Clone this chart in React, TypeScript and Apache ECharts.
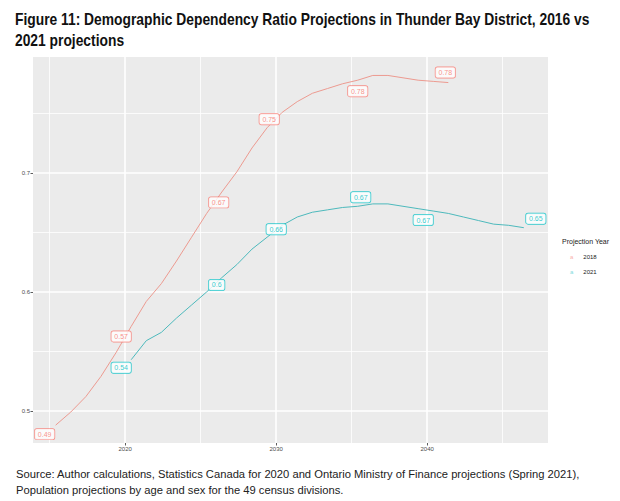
import React, { useEffect, useRef } from "react";
import * as echarts from "echarts";

const titleText =
  "Figure 11: Demographic Dependency Ratio Projections in Thunder Bay District, 2016 vs\n2021 projections";
const sourceText =
  "Source: Author calculations, Statistics Canada for 2020 and Ontario Ministry of Finance projections (Spring 2021),\nPopulation projections by age and sex for the 49 census divisions.";
const legendTitle = "Projection Year";
const seriesNames = ["2018", "2021"];

const xTicks = [2020, 2030, 2040];
const xMinor = [2015, 2025, 2035, 2045];
const yTicks = [0.5, 0.6, 0.7];
const yMinor = [0.55, 0.65, 0.75];

const years2018 = [
  2015.4, 2016.4, 2017.4, 2018.4, 2019.4, 2020.4, 2021.4, 2022.4, 2023.4, 2024.4,
  2025.4, 2026.4, 2027.4, 2028.4, 2029.4, 2030.4, 2031.4, 2032.4, 2033.4, 2034.4,
  2035.4, 2036.4, 2037.4, 2038.4, 2039.4, 2040.4, 2041.4,
];
const values2018 = [
  0.488, 0.499, 0.512, 0.529, 0.549, 0.571, 0.592, 0.607, 0.626, 0.646,
  0.666, 0.684, 0.701, 0.721, 0.738, 0.751, 0.76, 0.767, 0.771, 0.775,
  0.778, 0.782, 0.782, 0.78, 0.778, 0.777, 0.776,
];
const years2021 = [
  2020.4, 2021.4, 2022.4, 2023.4, 2024.4, 2025.4, 2026.4, 2027.4, 2028.4, 2029.4,
  2030.4, 2031.4, 2032.4, 2033.4, 2034.4, 2035.4, 2036.4, 2037.4, 2038.4, 2039.4,
  2040.4, 2041.4, 2042.4, 2043.4, 2044.4, 2045.4, 2046.4,
];
const values2021 = [
  0.543, 0.559, 0.566, 0.578, 0.589, 0.6, 0.612, 0.623, 0.636, 0.646,
  0.656, 0.663, 0.667, 0.669, 0.671, 0.672, 0.674, 0.674, 0.672, 0.67,
  0.668, 0.666, 0.663, 0.66, 0.657, 0.656, 0.654,
];
const labelIndex = [0, 5, 10, 15, 20, 26];

const RED = "#F8766D";
const TEAL = "#00BFC4";
const RED_LINE = "#EC9A90";
const TEAL_LINE = "#4DB9BC";
const redLabelOffsets = [[-11, 9], [-10, 10], [12, -11], [-13, 7], [0, 11], [-3, -10]];
const tealLabelOffsets = [[-10, 8], [10, -7], [-6, 4], [3, -9], [-10, 9], [12, -9]];

const fmt = (v: number) => String(Number(v.toFixed(2)));
const FONT = "'Liberation Sans', Arial, sans-serif";

function labelSeries(name: string, xs: number[], ys: number[], color: string, offsets: number[][]) {
  return {
    name,
    type: "scatter",
    z: 5,
    symbolSize: 1,
    itemStyle: { color: "rgba(0,0,0,0)" },
    legendHoverLink: false,
    data: labelIndex.map((i, k) => ({
      value: [xs[i], ys[i]],
      label: { offset: offsets[k] },
    })),
    label: {
      show: true,
      position: "inside",
      formatter: (p: any) => fmt(p.value[1]),
      color,
      fontSize: 7,
      fontFamily: FONT,
      backgroundColor: "#ffffff",
      borderColor: color,
      borderWidth: 0.7,
      borderRadius: 2,
      padding: [2, 3, 1.5, 3],
    },
  };
}

export default function App() {
  const ref = useRef<HTMLDivElement>(null);
  useEffect(() => {
    if (!ref.current) return;
    const chart = echarts.init(ref.current, undefined, { renderer: "svg" });
    const gridLines = [
      ...xMinor.map((v) => ({ xAxis: v, lineStyle: { width: 0.8 } })),
      ...xTicks.map((v) => ({ xAxis: v, lineStyle: { width: 1.6 } })),
      ...yMinor.map((v) => ({ yAxis: v, lineStyle: { width: 0.8 } })),
      ...yTicks.map((v) => ({ yAxis: v, lineStyle: { width: 1.6 } })),
    ];
    chart.setOption({
      animation: false,
      backgroundColor: "#ffffff",
      title: [
        {
          text: legendTitle,
          left: 557,
          top: 233,
          textStyle: {
            fontFamily: FONT,
            fontWeight: "normal",
            fontSize: 7,
            color: "#222",
          },
        },
      ],
      graphic: [
        {
          type: "text",
          left: 15,
          top: 9,
          scaleX: 0.865,
          style: {
            text: titleText,
            font: `bold 16px ${FONT}`,
            lineHeight: 21,
            fill: "#111",
          },
        },
        {
          type: "text",
          left: 16,
          top: 466,
          scaleX: 0.975,
          style: {
            text: sourceText,
            font: `11.5px ${FONT}`,
            lineHeight: 16,
            fill: "#222",
          },
        },
      ],
      legend: {
        orient: "vertical",
        left: 559,
        top: 246,
        itemWidth: 0,
        itemHeight: 0,
        itemGap: 3,
        data: seriesNames,
        formatter: (name: string) => `{${name === "2018" ? "r" : "t"}|a}   {n|${name}}`,
        textStyle: {
          fontFamily: FONT,
          rich: {
            r: { color: "#F9B2AC", fontSize: 6 },
            t: { color: "#7FDADD", fontSize: 6 },
            n: { color: "#222", fontSize: 6 },
          },
        },
      },
      grid: {
        left: 33,
        right: 72,
        top: 57,
        bottom: 58,
        show: true,
        backgroundColor: "#EBEBEB",
        borderWidth: 0,
      },
      xAxis: {
        type: "value",
        min: 2013.9,
        max: 2048,
        splitLine: { show: false },
        axisLine: { show: false },
        axisTick: { show: true, customValues: xTicks, length: 2.5, lineStyle: { color: "#333", width: 0.8 } },
        axisLabel: {
          customValues: xTicks,
          fontSize: 6,
          color: "#4D4D4D",
          margin: 3,
          fontFamily: FONT,
          formatter: (v: number) => String(v),
        },
      },
      yAxis: {
        type: "value",
        min: 0.473,
        max: 0.7975,
        splitLine: { show: false },
        axisLine: { show: false },
        axisTick: { show: true, customValues: yTicks, length: 2.5, lineStyle: { color: "#333", width: 0.8 } },
        axisLabel: {
          customValues: yTicks,
          fontSize: 6,
          color: "#4D4D4D",
          margin: 3,
          fontFamily: FONT,
          formatter: (v: number) => String(v),
        },
      },
      series: [
        {
          type: "line",
          name: "grid",
          data: [],
          z: 1,
          silent: true,
          markLine: {
            z: 1,
            silent: true,
            symbol: "none",
            label: { show: false },
            lineStyle: { color: "#ffffff", type: "solid" },
            emphasis: { disabled: true },
            data: gridLines,
          },
        },
        {
          name: seriesNames[0],
          type: "line",
          z: 3,
          showSymbol: false,
          symbol: "none",
          color: RED,
          lineStyle: { color: RED_LINE, width: 1 },
          data: years2018.map((x, i) => [x, values2018[i]]),
        },
        {
          name: seriesNames[1],
          type: "line",
          z: 3,
          showSymbol: false,
          symbol: "none",
          color: TEAL,
          lineStyle: { color: TEAL_LINE, width: 1 },
          data: years2021.map((x, i) => [x, values2021[i]]),
        },
        labelSeries(seriesNames[0], years2018, values2018, RED, redLabelOffsets),
        labelSeries(seriesNames[1], years2021, values2021, TEAL, tealLabelOffsets),
      ],
    });
    return () => chart.dispose();
  }, []);
  return (
    <div
      ref={ref}
      style={{ position: "fixed", left: 0, top: 0, width: 620, height: 501 }}
    />
  );
}
